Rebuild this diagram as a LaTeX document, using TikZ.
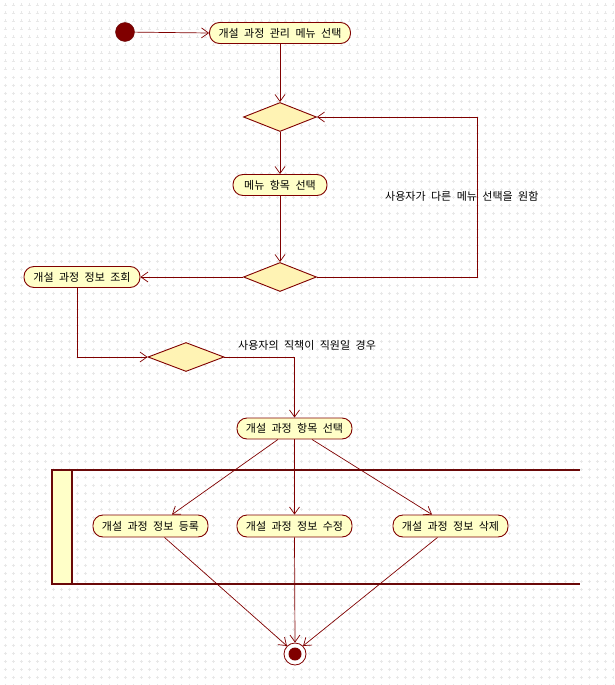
\documentclass[tikz,border=0pt]{standalone}
\usepackage{fontspec}
\setmainfont[WordSpace=2.2]{Noto Sans CJK KR}
\usetikzlibrary{shapes.geometric,arrows.meta}
\definecolor{umlline}{HTML}{800000}
\definecolor{umlframe}{HTML}{6A0808}
\definecolor{actfill}{HTML}{FFFFC8}
\definecolor{decfill}{HTML}{FFF3B4}
\definecolor{gridcol}{HTML}{E8E8E8}
\tikzset{
  act/.style={draw=umlline, fill=actfill, line width=0.9pt, rectangle,
    rounded corners=10pt, minimum height=21pt, inner sep=0pt,
    font=\fontsize{11}{13}\selectfont},
  dec/.style={draw=umlline, fill=decfill, line width=0.9pt, diamond,
    minimum width=73pt, minimum height=29pt, inner sep=0pt},
  flow/.style={draw=umlline, line width=0.7pt,
    -{Straight Barb[length=7pt,width=10pt,line width=0.7pt]}},
  guard/.style={font=\fontsize{11}{13}\selectfont, anchor=west, inner sep=0pt},
  laneline/.style={draw=umlframe, line width=2.2pt}
}
\begin{document}
\begin{tikzpicture}[x=1pt,y=-1pt]
\useasboundingbox (0,0) rectangle (614,685);
\fill[white] (0,0) rectangle (614,685);
% background grid of small crosses
\foreach \j in {0,...,85} {
  \draw[gridcol, line width=0.6pt, dash pattern=on 3pt off 5pt] (3.5,5+8*\j) -- (614,5+8*\j);
}
\foreach \i in {0,...,76} {
  \draw[gridcol, line width=0.6pt, dash pattern=on 3pt off 5pt] (5+8*\i,3.5) -- (5+8*\i,685);
}

% swimlane frame
\fill[actfill] (52,470) rectangle (72,584);
\draw[laneline] (580,470) -- (52,470) -- (52,584) -- (580,584);
\draw[laneline] (72,470) -- (72,584);

% initial and final states
\node[circle, fill=umlline, draw=umlframe, minimum size=19pt, inner sep=0pt] (start) at (125,32) {};
\node[circle, draw=umlline, fill=white, line width=0.8pt, minimum size=22pt, inner sep=0pt] (final) at (295,654) {};
\fill[umlline] (final) circle (6.5pt);

% activities
\node[act, minimum width=141pt] (menu) at (280,33) {개설 과정 관리 메뉴 선택};
\node[dec] (d1) at (280,117) {};
\node[act, minimum width=94pt] (item) at (280,185) {메뉴 항목 선택};
\node[dec] (d2) at (280,277) {};
\node[act, minimum width=116pt] (query) at (82,277) {개설 과정 정보 조회};
\node[dec, minimum width=76pt] (d3) at (186,357) {};
\node[act, minimum width=115pt] (choose) at (294.5,428.5) {개설 과정 항목 선택};
\node[act, minimum width=115pt, minimum height=22pt] (reg) at (150.5,526) {개설 과정 정보 등록};
\node[act, minimum width=115pt, minimum height=22pt] (mod) at (294.5,526) {개설 과정 정보 수정};
\node[act, minimum width=115pt, minimum height=22pt] (del) at (450.5,526) {개설 과정 정보 삭제};

\coordinate (loop) at (477,277);

% transitions
\draw[flow] (start) -- (menu.west);
\draw[flow] (menu.south) -- (d1.north);
\draw[flow] (d1.south) -- (item.north);
\draw[flow] (item.south) -- (d2.north);
\draw[flow] (d2.west) -- (query.east);
\draw[flow] (d2.east) -- (loop) |- (d1.east);
\draw[flow] ([xshift=-5pt]query.south) |- (d3.west);
\draw[flow] (d3.east) -| (choose.north);
\draw[flow] ([xshift=-16.5pt]choose.south) -- ([xshift=21.5pt]reg.north);
\draw[flow] (choose.south) -- (mod.north);
\draw[flow] ([xshift=17.5pt]choose.south) -- ([xshift=-18.5pt]del.north);
\draw[flow] ([xshift=14pt]reg.south) -- (final.north west);
\draw[flow] (mod.south) -- (final.north);
\draw[flow] ([xshift=-13pt]del.south) -- (final.north east);

% guard labels
\node[guard] (g1) at (385,196) {사용자가 다른 메뉴 선택을 원함};
\node[guard] (g2) at (238,345) {사용자의 직책이 직원일 경우};
\end{tikzpicture}
\end{document}
